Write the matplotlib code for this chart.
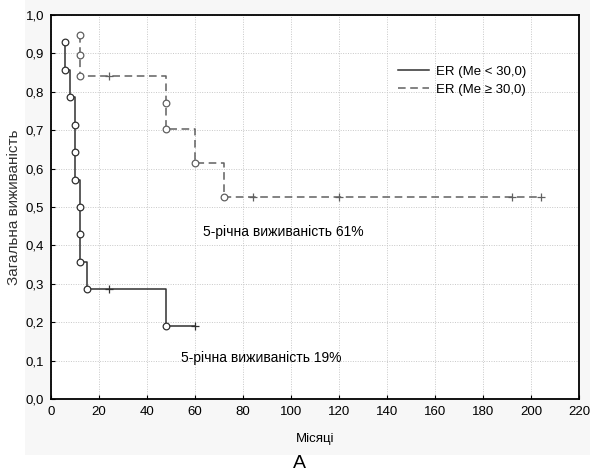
import matplotlib
matplotlib.use("Agg")
import matplotlib.pyplot as plt
from matplotlib.patches import Rectangle
from matplotlib.lines import Line2D

# ---- data ----
# Group 1: ER (Me < 30,0) -- events (time, survival after event)
g1_event_t = [6, 6, 8, 10, 10, 10, 12, 12, 12, 15, 48]
g1_event_s = [0.929, 0.857, 0.786, 0.714, 0.643, 0.571, 0.500, 0.429, 0.357, 0.286, 0.190]
g1_cens_t = [24, 60]
g1_cens_s = [0.286, 0.190]
g1_end = 60

# Group 2: ER (Me >= 30,0)
g2_event_t = [12, 12, 12, 48, 48, 60, 72]
g2_event_s = [0.947, 0.895, 0.842, 0.772, 0.702, 0.614, 0.526]
g2_cens_t = [24, 84, 120, 192, 204]
g2_cens_s = [0.842, 0.526, 0.526, 0.526, 0.526]
g2_end = 204

x_ticks = [0, 20, 40, 60, 80, 100, 120, 140, 160, 180, 200, 220]
y_ticks = [0.0, 0.1, 0.2, 0.3, 0.4, 0.5, 0.6, 0.7, 0.8, 0.9, 1.0]
y_tick_labels = ["0,0", "0,1", "0,2", "0,3", "0,4", "0,5", "0,6", "0,7", "0,8", "0,9", "1,0"]

labels = ["ER (Me < 30,0)", "ER (Me ≥ 30,0)"]
ann1 = "5-річна виживаність 61%"
ann2 = "5-річна виживаність 19%"

plt.rcParams['font.family'] = ['Liberation Sans', 'DejaVu Sans']


def step_path(ts, ss, end):
    xs = [ts[0]]
    ys = [ss[0]]
    for i in range(1, len(ts)):
        xs += [ts[i], ts[i]]
        ys += [ss[i - 1], ss[i]]
    xs.append(end)
    ys.append(ss[-1])
    return xs, ys


fig = plt.figure(figsize=(5.9, 4.7), dpi=100)
fig.patch.set_facecolor("white")
fig.patches.append(Rectangle((25 / 590, 15 / 470), 1 - 25 / 590, 1 - 15 / 470,
                             transform=fig.transFigure, facecolor="#f7f7f7",
                             edgecolor="none", zorder=-10))

ax = fig.add_axes([51 / 590, 71 / 470, 528 / 590, 384 / 470])
ax.set_facecolor("white")

c1 = "#303030"
c2 = "#606060"

x1, y1 = step_path(g1_event_t, g1_event_s, g1_end)
ax.plot(x1, y1, color=c1, lw=1.1, zorder=3)
ax.plot(g1_event_t, g1_event_s, linestyle="none", marker="o", ms=4.8,
        mfc="white", mec=c1, mew=0.9, zorder=4)
ax.plot(g1_cens_t, g1_cens_s, linestyle="none", marker="+", ms=5.5,
        mec=c1, mew=0.9, zorder=4)

x2, y2 = step_path(g2_event_t, g2_event_s, g2_end)
ax.plot(x2, y2, color=c2, lw=1.1, dashes=(5, 3), zorder=3)
ax.plot(g2_event_t, g2_event_s, linestyle="none", marker="o", ms=4.8,
        mfc="white", mec=c2, mew=0.9, zorder=4)
ax.plot(g2_cens_t, g2_cens_s, linestyle="none", marker="+", ms=5.5,
        mec=c2, mew=0.9, zorder=4)

ax.set_xlim(0, 220)
ax.set_ylim(0, 1.0)
ax.set_xticks(x_ticks)
ax.set_xticklabels([str(v) for v in x_ticks], fontsize=9.5)
ax.set_yticks(y_ticks)
ax.set_yticklabels(y_tick_labels, fontsize=9.5)
ax.tick_params(direction="in", length=3, width=0.8, pad=5, colors="black")
ax.grid(True, color="#c8c8c8", linestyle=(0, (1, 1.5)), linewidth=0.7)
ax.set_axisbelow(True)
for s in ax.spines.values():
    s.set_linewidth(1.3)
    s.set_color("black")

ax.set_xlabel("Місяці", fontsize=9.5, labelpad=11)
ax.set_ylabel("Загальна виживаність", fontsize=11, labelpad=3, color="#333333")

ax.text(63.5, 0.435, ann1, fontsize=10, va="center", ha="left")
ax.text(54, 0.107, ann2, fontsize=10, va="center", ha="left")

handles = [Line2D([], [], color=c1, lw=1.1),
           Line2D([], [], color=c2, lw=1.1, dashes=(5, 3))]
ax.legend(handles, labels, loc="upper left", bbox_to_anchor=(0.645, 0.885),
          frameon=False, fontsize=9.5, handlelength=2.3, handletextpad=0.6,
          labelspacing=0.4, borderpad=0)

fig.text(299 / 590, 1 - 463 / 470, "A", fontsize=14, ha="center", va="center")

fig.savefig("out.png", dpi=100)
